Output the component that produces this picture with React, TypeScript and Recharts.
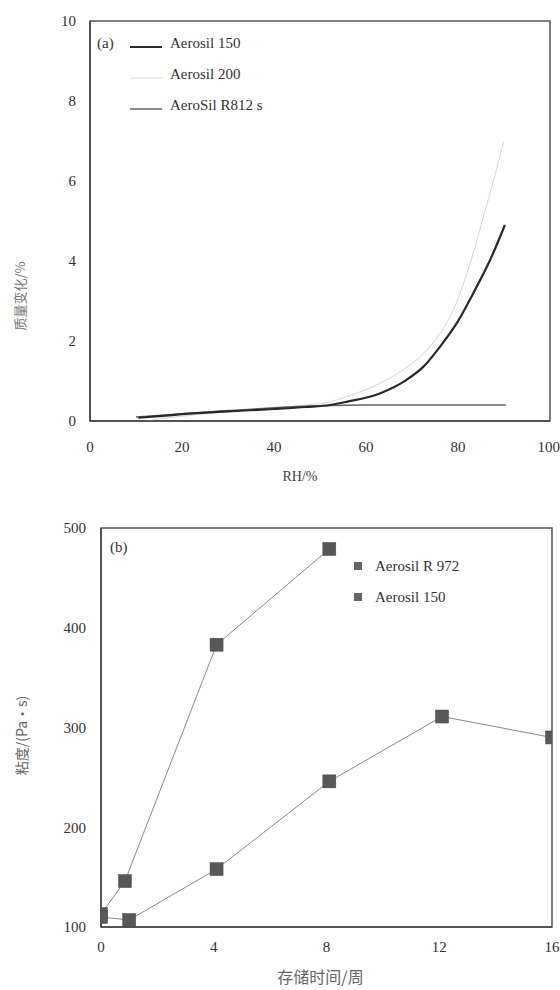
import React from 'react';
import { LineChart, Line, XAxis, YAxis, ReferenceArea } from 'recharts';

// ---- Chart (a): moisture uptake vs RH ----
const a150X = [10.5, 15, 20, 30, 40, 47, 52.2, 55.8, 63, 68.8, 72.5, 76.1, 79.7, 83.3, 87, 90.2];
const a150Y = [0.08, 0.12, 0.17, 0.24, 0.3, 0.35, 0.4, 0.48, 0.69, 1.03, 1.36, 1.86, 2.44, 3.19, 4.03, 4.9];
const a200X = [12.5, 15, 20, 30, 40, 47, 52.2, 55.8, 63, 68.1, 72.5, 76.1, 79, 81.2, 83.3, 85.5, 87.7, 89.9];
const a200Y = [0.0, 0.05, 0.12, 0.23, 0.33, 0.4, 0.48, 0.61, 0.94, 1.28, 1.69, 2.19, 2.78, 3.44, 4.19, 5.1, 6.0, 6.98];
const r812X = [10, 20, 30, 40, 50, 60, 70, 80, 90.4];
const r812Y = [0.1, 0.18, 0.26, 0.33, 0.38, 0.4, 0.4, 0.4, 0.4];
const rhTicks = [0, 20, 40, 60, 80, 100];
const massTicks = [0, 2, 4, 6, 8, 10];

// ---- Chart (b): viscosity vs storage time ----
const r972X = [0, 0.85, 4.1, 8.1];
const r972Y = [113, 146, 383, 479];
const b150X = [0, 1, 4.1, 8.1, 12.1, 16];
const b150Y = [110, 107, 158, 246, 311, 290];
const timeTicks = [0, 4, 8, 12, 16];
const viscTicks = [100, 200, 300, 400, 500];

const toPts = (xs: number[], ys: number[]) => xs.map((x, i) => ({ x, y: ys[i] }));

const FONT = "'Liberation Serif', 'Noto Sans CJK SC', serif";
const CJK = "'Noto Sans CJK SC', 'Liberation Serif', sans-serif";

const legendA = [
  { name: 'Aerosil 150', color: '#2a2a2a', w: 2 },
  { name: 'Aerosil 200', color: '#dddddd', w: 1 },
  { name: 'AeroSil R812 s', color: '#666666', w: 1.5 },
];
const legendB = ['Aerosil R 972', 'Aerosil 150'];

const LegendA = () => (
  <div style={{ position: 'absolute', left: 97, top: 31, fontFamily: FONT, fontSize: 15, color: '#333' }}>
    <div style={{ position: 'absolute', left: 0, top: 0, lineHeight: '24px' }}>(a)</div>
    {legendA.map((it, i) => (
      <div key={it.name} style={{ position: 'absolute', left: 33, top: i * 31, height: 24, display: 'flex', alignItems: 'center', whiteSpace: 'nowrap' }}>
        <svg width={34} height={24}><line x1={0} x2={32} y1={16} y2={16} stroke={it.color} strokeWidth={it.w} /></svg>
        <span style={{ marginLeft: 6 }}>{it.name}</span>
      </div>
    ))}
  </div>
);

const LegendB = () => (
  <div style={{ position: 'absolute', left: 110, top: 536, fontFamily: FONT, fontSize: 15, color: '#333' }}>
    <div style={{ position: 'absolute', left: 0, top: 0, lineHeight: '22px' }}>(b)</div>
    {legendB.map((n, i) => (
      <div key={n} style={{ position: 'absolute', left: 244, top: 19 + i * 31, height: 22, display: 'flex', alignItems: 'center', whiteSpace: 'nowrap' }}>
        <span style={{ display: 'inline-block', width: 8, height: 8, background: '#666' }} />
        <span style={{ marginLeft: 13 }}>{n}</span>
      </div>
    ))}
  </div>
);

const square = (props: any) => {
  const { cx, cy, index } = props;
  return <rect key={'s' + index} x={cx - 6.5} y={cy - 6.5} width={13} height={13} fill="#585858" stroke="#4a4a4a" strokeWidth={0.5} />;
};

const tickStyle = { fontFamily: FONT, fontSize: 15, fill: '#333' };

export default function App() {
  return (
    <div style={{ position: 'absolute', left: 0, top: 0, width: 560, height: 990, background: '#fff' }}>
      <div style={{ position: 'absolute', left: 0, top: 0 }}>
        <LineChart width={560} height={490} margin={{ top: 21, right: 10, left: 0, bottom: 9 }}>
          <XAxis
            type="number" dataKey="x" domain={[0, 100]} ticks={rhTicks} allowDataOverflow
            tickLine={false} axisLine={{ stroke: '#444', strokeWidth: 1.5 }} tickMargin={14} height={60}
            tick={tickStyle}
            label={{ value: 'RH/%', position: 'center', dx: -20, dy: 25, style: { fontFamily: FONT, fontSize: 14, fill: '#444' } }}
          />
          <YAxis
            type="number" domain={[0, 10]} ticks={massTicks} width={90}
            tickLine={false} axisLine={{ stroke: '#444', strokeWidth: 1.5 }} tickMargin={8}
            tick={tickStyle}
            label={{ value: '质量变化/%', angle: -90, position: 'center', dx: -25, dy: 75, style: { fontFamily: CJK, fontSize: 13, fill: '#777' } }}
          />
          <ReferenceArea x1={0} x2={100} y1={0} y2={10} fill="none" stroke="#555" strokeWidth={1.5} />
          <Line data={toPts(a200X, a200Y)} dataKey="y" type="monotone" stroke="#d6d6d6" strokeWidth={1} dot={false} isAnimationActive={false} />
          <Line data={toPts(r812X, r812Y)} dataKey="y" type="monotone" stroke="#666" strokeWidth={1.5} dot={false} isAnimationActive={false} />
          <Line data={toPts(a150X, a150Y)} dataKey="y" type="monotone" stroke="#2a2a2a" strokeWidth={2.2} dot={false} isAnimationActive={false} />
        </LineChart>
      </div>
      <LegendA />
      <div style={{ position: 'absolute', left: 0, top: 490 }}>
        <LineChart width={560} height={500} margin={{ top: 38, right: 8, left: 0, bottom: 3 }}>
          <XAxis
            type="number" dataKey="x" domain={[0, 16]} ticks={timeTicks} allowDataOverflow
            tickLine={false} axisLine={{ stroke: '#444', strokeWidth: 1.5 }} tickMargin={8} height={60}
            tick={tickStyle}
            label={{ value: '存储时间/周', position: 'center', dx: -6, dy: 20, style: { fontFamily: CJK, fontSize: 16, fill: '#666' } }}
          />
          <YAxis
            type="number" domain={[100, 500]} ticks={viscTicks} width={101}
            tickLine={false} axisLine={{ stroke: '#444', strokeWidth: 1.5 }} tickMargin={9}
            tick={tickStyle}
            label={{ value: '粘度/(Pa·s)', angle: -90, position: 'center', dx: -28, dy: 8, style: { fontFamily: CJK, fontSize: 14, fill: '#666' } }}
          />
          <ReferenceArea x1={0} x2={16} y1={100} y2={500} fill="none" stroke="#555" strokeWidth={1.5} />
          <Line data={toPts(r972X, r972Y)} dataKey="y" type="linear" stroke="#8a8a8a" strokeWidth={1} dot={square} isAnimationActive={false} />
          <Line data={toPts(b150X, b150Y)} dataKey="y" type="linear" stroke="#8a8a8a" strokeWidth={1} dot={square} isAnimationActive={false} />
        </LineChart>
      </div>
      <LegendB />
    </div>
  );
}
